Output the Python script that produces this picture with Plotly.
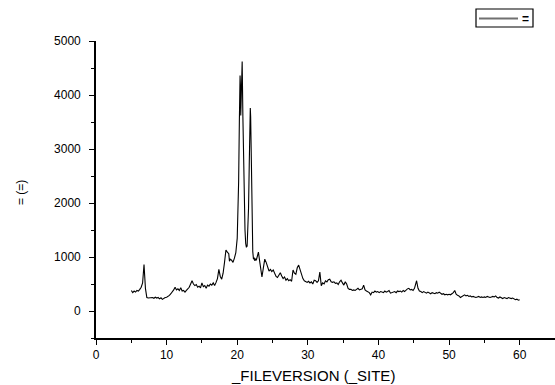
import plotly.graph_objects as go

angle = [5.0, 5.2, 5.4, 5.6, 5.8, 6.0, 6.2, 6.4, 6.6, 6.8, 7.0, 7.2, 7.4,
         7.6, 7.8, 8.0, 8.2, 8.4, 8.6, 8.8, 9.0, 9.2, 9.4, 9.6, 9.8, 10.0,
         10.2, 10.4, 10.6, 10.8, 11.0, 11.2, 11.4, 11.6, 11.8, 12.0, 12.2, 12.4,
         12.6, 12.8, 13.0, 13.2, 13.4, 13.6, 13.8, 14.0, 14.2, 14.4, 14.6, 14.8,
         15.0, 15.2, 15.4, 15.6, 15.8, 16.0, 16.2, 16.4, 16.6, 16.8, 17.0, 17.2,
         17.4, 17.6, 17.8, 18.0, 18.2, 18.4, 18.6, 18.8, 18.9, 19.0, 19.2, 19.4,
         19.6, 19.8, 20.0, 20.1, 20.2, 20.3, 20.4, 20.45, 20.5, 20.55, 20.6, 20.7,
         20.8, 20.9, 21.0, 21.1, 21.2, 21.3, 21.4, 21.5, 21.6, 21.7, 21.8, 21.85,
         21.9, 22.0, 22.1, 22.2, 22.3, 22.4, 22.5, 22.6, 22.7, 22.8, 23.0, 23.2,
         23.4, 23.5, 23.7, 23.9, 24.1, 24.3, 24.5, 24.7, 24.9, 25.1, 25.3, 25.5,
         25.7, 25.9, 26.1, 26.3, 26.5, 26.7, 26.9, 27.1, 27.3, 27.5, 27.7, 27.9,
         28.1, 28.3, 28.5, 28.7, 28.9, 29.1, 29.3, 29.5, 29.7, 29.9, 30.1, 30.3,
         30.5, 30.7, 30.9, 31.1, 31.3, 31.5, 31.7, 31.9, 32.1, 32.3, 32.5, 32.7,
         32.9, 33.1, 33.3, 33.5, 33.7, 33.9, 34.1, 34.3, 34.5, 34.7, 34.9, 35.1,
         35.3, 35.5, 35.7, 35.9, 36.1, 36.3, 36.5, 36.7, 36.9, 37.1, 37.3, 37.5,
         37.7, 37.9, 38.1, 38.3, 38.5, 38.7, 38.9, 39.1, 39.3, 39.5, 39.7, 39.9,
         40.1, 40.3, 40.5, 40.7, 40.9, 41.1, 41.3, 41.5, 41.7, 41.9, 42.1, 42.3,
         42.5, 42.7, 42.9, 43.1, 43.3, 43.5, 43.7, 43.9, 44.1, 44.3, 44.5, 44.7,
         44.9, 45.1, 45.3, 45.4, 45.6, 45.8, 46.0, 46.2, 46.4, 46.6, 46.8, 47.0,
         47.2, 47.4, 47.6, 47.8, 48.0, 48.2, 48.4, 48.6, 48.8, 49.0, 49.2, 49.4,
         49.6, 49.8, 50.0, 50.2, 50.4, 50.6, 50.8, 51.0, 51.2, 51.4, 51.6, 51.8,
         52.0, 52.2, 52.4, 52.6, 52.8, 53.0, 53.2, 53.4, 53.6, 53.8, 54.0, 54.2,
         54.4, 54.6, 54.8, 55.0, 55.2, 55.4, 55.6, 55.8, 56.0, 56.2, 56.4, 56.6,
         56.8, 57.0, 57.2, 57.4, 57.6, 57.8, 58.0, 58.2, 58.4, 58.6, 58.8, 59.0,
         59.2, 59.4, 59.6, 59.8, 60.0]

intensity = [380, 340, 370, 350, 380, 370, 400, 440, 520, 860, 420, 250, 240,
             245, 240, 250, 235, 255, 240, 250, 225, 245, 215, 240, 250, 255,
             270, 290, 320, 350, 390, 440, 390, 410, 380, 430, 370, 380,
             350, 380, 410, 440, 500, 560, 500, 470, 490, 440, 460, 430,
             520, 450, 470, 420, 480, 460, 500, 480, 520, 470, 530, 600,
             770, 640, 590, 700, 900, 1130, 1090, 1060, 920, 960, 940, 900,
             980, 1080, 1350, 1700, 2400, 3500, 4360, 4200, 3620, 4000, 3650, 4620,
             3600, 2700, 2000, 1500, 1250, 1180, 1200, 1450, 1900, 2700, 3500, 3760,
             3600, 2800, 1700, 1100, 960, 990, 930, 970, 940, 1000, 1090, 900,
             700, 630, 800, 960, 900, 800, 740, 770, 730, 760, 690, 640,
             620, 680, 710, 650, 600, 630, 570, 600, 560, 580, 550, 760,
             700, 680, 800, 850, 760, 700, 600, 560, 540, 530, 550, 520,
             540, 500, 570, 560, 530, 560, 720, 470, 520, 500, 560, 540,
             580, 590, 540, 530, 540, 510, 520, 490, 540, 570, 520, 480,
             540, 500, 420, 400, 400, 380, 390, 380, 400, 420, 390, 400,
             410, 480, 390, 370, 350, 340, 300, 350, 340, 370, 350, 360,
             340, 360, 350, 340, 370, 350, 360, 380, 330, 340, 350, 360,
             340, 370, 360, 370, 350, 380, 360, 390, 410, 420, 390, 400,
             380, 420, 500, 560, 420, 370, 360, 340, 360, 350, 330, 350,
             340, 320, 340, 330, 320, 340, 330, 350, 320, 310, 320, 300,
             310, 300, 310, 300, 320, 340, 380, 310, 290, 280, 250, 270,
             290, 300, 280, 290, 270, 280, 260, 270, 260, 250, 260, 270,
             250, 260, 250, 260, 250, 270, 260, 250, 260, 270, 260, 280,
             250, 240, 260, 240, 230, 250, 240, 230, 250, 240, 230, 240,
             220, 210, 220, 200, 210]

x_title = "_FILEVERSION (_SITE)"
y_title = "= (=)"
legend_name = "="

FONT = "Liberation Sans, Arial, sans-serif"

# plot-area geometry (pixels) used to place the legend box in paper coordinates
L, T, W, H = 96, 41, 459, 297


def px(xp):
    return (xp - L) / W


def py(yp):
    return (T + H - yp) / H


fig = go.Figure()
fig.add_trace(go.Scatter(x=angle, y=intensity, mode="lines", name=legend_name,
                         line=dict(color="black", width=1.1),
                         showlegend=False))

axis_common = dict(
    showline=True, linecolor="black", linewidth=1.6, mirror=False,
    showgrid=False, zeroline=False, ticks="outside", ticklen=5, tickwidth=1.4,
    tickcolor="black", tickfont=dict(family=FONT, size=12, color="black"),
)

fig.update_xaxes(range=[0, 65], tick0=0, dtick=10,
                 minor=dict(ticks="outside", ticklen=3, tickwidth=1.2,
                            tickcolor="black", dtick=5, tick0=0),
                 **axis_common)
fig.update_yaxes(range=[-500, 5000], tick0=0, dtick=1000,
                 minor=dict(ticks="outside", ticklen=3, tickwidth=1.2,
                            tickcolor="black", dtick=500, tick0=0),
                 ticklabelstandoff=6,
                 **axis_common)

shapes = [
    dict(type="rect", xref="paper", yref="paper", x0=px(476), x1=px(533),
         y0=py(27), y1=py(9), line=dict(color="black", width=1.2),
         fillcolor="white"),
    dict(type="line", xref="paper", yref="paper", x0=px(479), x1=px(518),
         y0=py(18.5), y1=py(18.5), line=dict(color="#707070", width=2)),
]

fig.update_layout(
    width=555, height=385, autosize=False,
    margin=dict(l=L, r=0, t=T, b=385 - T - H),
    paper_bgcolor="white", plot_bgcolor="white",
    font=dict(family=FONT, color="black"),
    showlegend=False,
    shapes=shapes,
    annotations=[
        dict(text="<b>" + legend_name + "</b>", xref="paper", yref="paper",
             x=px(525.5), y=py(18.5), xanchor="center", yanchor="middle",
             showarrow=False, font=dict(family=FONT, size=12, color="black")),
        dict(text=x_title, xref="paper", yref="paper", x=px(313), y=py(375),
             xanchor="center", yanchor="middle", showarrow=False,
             font=dict(family=FONT, size=15, color="black")),
        dict(text=y_title, xref="paper", yref="paper", x=px(21), y=py(193),
             xanchor="center", yanchor="middle", showarrow=False, textangle=-90,
             font=dict(family=FONT, size=12, color="black")),
    ],
)

fig.write_html("out.html")
